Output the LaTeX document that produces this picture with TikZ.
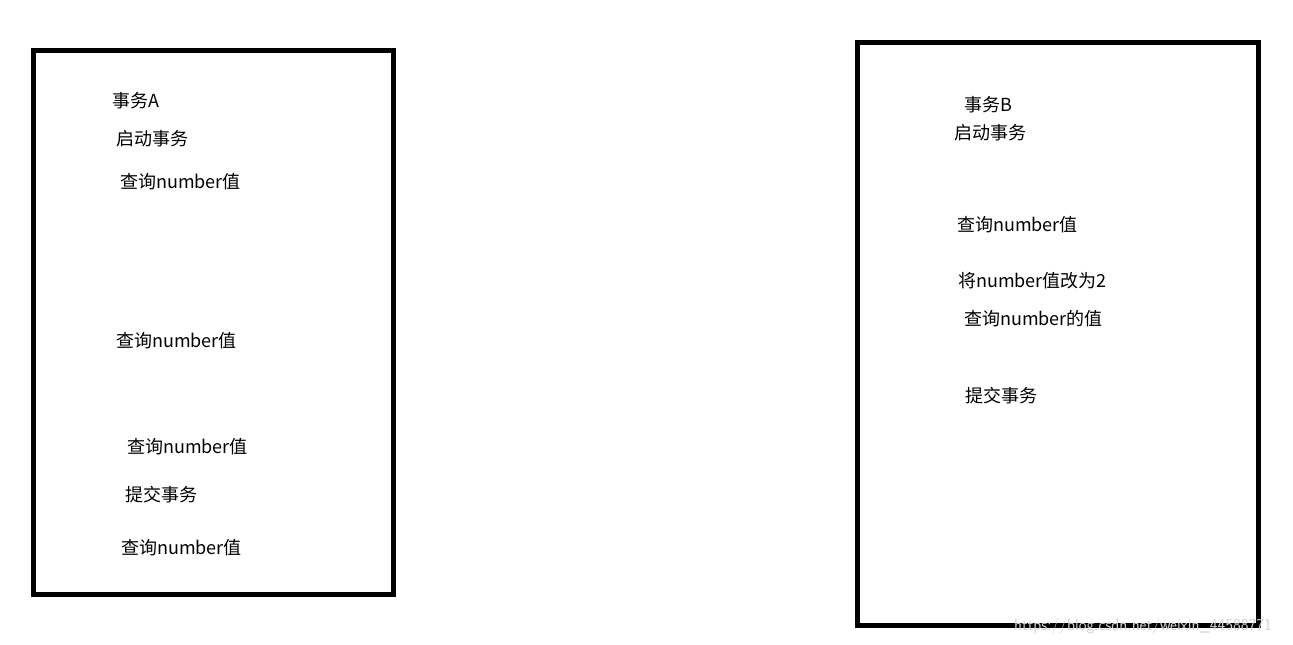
\documentclass[tikz,border=0pt]{standalone}
\usepackage{fontspec}
\newfontfamily\cjk{Noto Sans CJK SC}
\begin{document}
\begin{tikzpicture}[x=1pt,y=-1pt,
  box/.style={draw,line width=5pt},
  stepbox/.style={anchor=west,inner sep=0pt,font=\cjk\fontsize{18}{20}\selectfont},
  wmark/.style={anchor=west,inner sep=0pt,text=black!18,font=\sffamily\fontsize{16.5}{18}\selectfont}]
\useasboundingbox (0,0) rectangle (1293,645);
\draw[box] (33.5,50.5) rectangle (393.5,594.5);
\draw[box] (857.5,42.5) rectangle (1258.5,625.5);
\node[stepbox] (a0) at (112,101) {事务A};
\node[stepbox] (a1) at (116,139) {启动事务};
\node[stepbox] (a2) at (120,182) {查询number值};
\node[stepbox] (a3) at (116,341) {查询number值};
\node[stepbox] (a4) at (127,447) {查询number值};
\node[stepbox] (a5) at (125,495) {提交事务};
\node[stepbox] (a6) at (121,548) {查询number值};
\node[stepbox] (b0) at (964,105) {事务B};
\node[stepbox] (b1) at (954,133) {启动事务};
\node[stepbox] (b2) at (957,225) {查询number值};
\node[stepbox] (b3) at (958,281) {将number值改为2};
\node[stepbox] (b4) at (964,319) {查询number的值};
\node[stepbox] (b5) at (965,396) {提交事务};
\node[wmark] (wm) at (1014,626) {https://blog.csdn.net/weixin\_44588771};
\end{tikzpicture}
\end{document}
